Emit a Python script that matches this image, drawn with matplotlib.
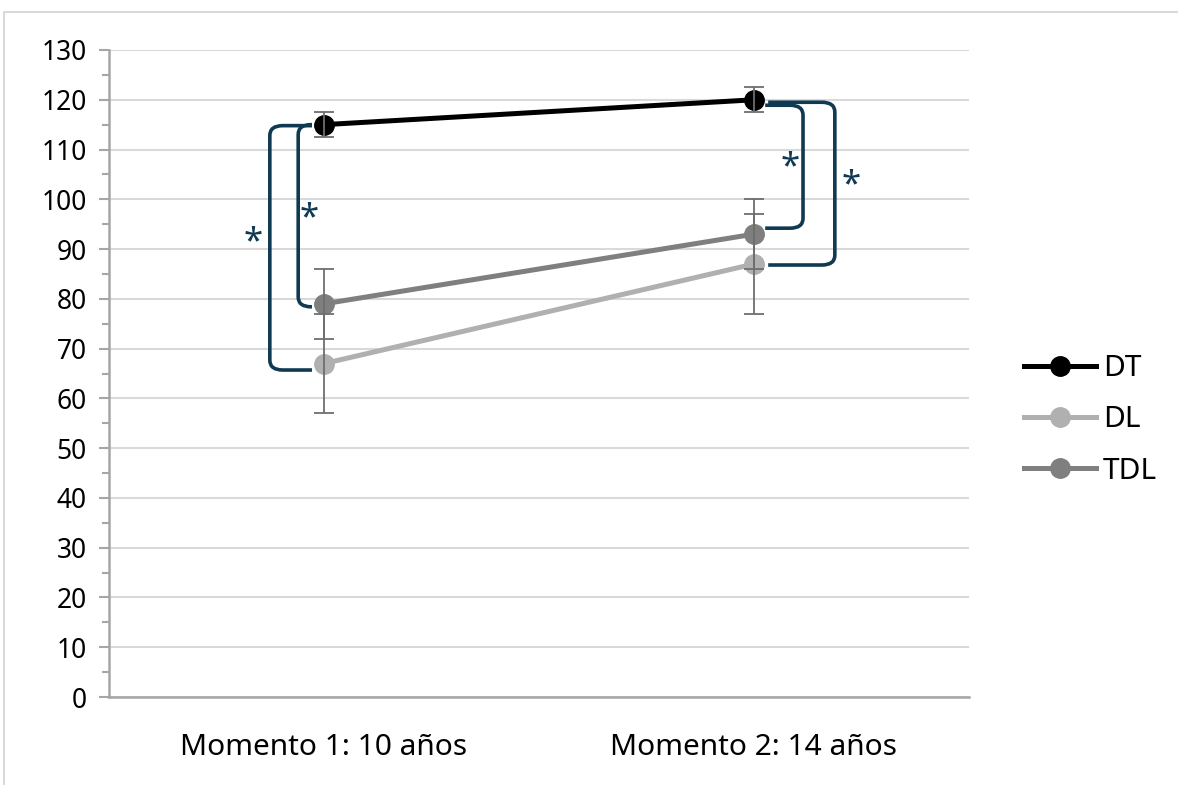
import numpy as np
import matplotlib
matplotlib.use('Agg')
import matplotlib.pyplot as plt
from matplotlib.path import Path
from matplotlib.patches import PathPatch, Rectangle

plt.rcParams['font.family'] = ['Noto Sans', 'DejaVu Sans']

# Data
categories = ['Momento 1: 10 años', 'Momento 2: 14 años']
dt = [115, 120]
dt_err = [2.5, 2.5]
dl = [67, 87]
dl_err = [10, 10]
tdl = [79, 93]
tdl_err = [7, 7]

# significance brackets: (x of vertical, x of arm end, y top, y bottom)
brackets = [(-0.126, -0.028, 114.8, 65.7),
            (-0.060, -0.028, 115.0, 78.4),
            (1.114, 1.026, 118.9, 94.2),
            (1.188, 1.033, 119.5, 86.8)]
stars = [(-0.165, 91.4), (-0.035, 96.2), (1.084, 106.5), (1.226, 102.9)]

navy = '#0f3a52'
x = np.arange(len(categories))

fig = plt.figure(figsize=(11.78, 7.85), dpi=100)
ax = fig.add_axes([109/1178, 1 - 697/785, 860/1178, 647/785])

# outer chart border (only top/left visible in the crop)
fig.patches.append(Rectangle((4/1178, -0.1), 1.2, 0.1 + (785-12)/785,
                             transform=fig.transFigure, fill=False,
                             edgecolor='#d9d9d9', linewidth=1.5))

series = [('DT', dt, dt_err, '#000000'),
          ('DL', dl, dl_err, '#b0b0b0'),
          ('TDL', tdl, tdl_err, '#7f7f7f')]
for name, vals, err, col in series:
    ax.plot(x, vals, color=col, linewidth=3.6, marker='o', markersize=14,
            label=name, zorder=3)
    ax.errorbar(x, vals, yerr=err, fmt='none', ecolor='#6e6e6e',
                elinewidth=1.3, capsize=7, capthick=1.3, zorder=4)

# brackets with rounded corners
rx, ry = 0.03, 2.0
for xv, xe, yt, yb in brackets:
    s = 1 if xe > xv else -1
    verts = [(xe, yt), (xv + s*rx, yt), (xv, yt), (xv, yt - ry),
             (xv, yb + ry), (xv, yb), (xv + s*rx, yb), (xe, yb)]
    codes = [Path.MOVETO, Path.LINETO, Path.CURVE3, Path.CURVE3,
             Path.LINETO, Path.CURVE3, Path.CURVE3, Path.LINETO]
    ax.add_patch(PathPatch(Path(verts, codes), fill=False, edgecolor=navy,
                           linewidth=2.6, zorder=5))
for sx, sy in stars:
    ax.text(sx, sy, '*', color=navy, fontsize=25, fontweight='bold',
            ha='center', va='center')

ax.set_xlim(-0.5, 1.5)
ax.set_ylim(0, 130)
ax.set_yticks(np.arange(0, 131, 10))
ax.set_yticks(np.arange(5, 130, 10), minor=True)
ax.set_xticks(x)
ax.set_xticklabels(categories)
ax.grid(axis='y', color='#d9d9d9', linewidth=1.5)
ax.set_axisbelow(True)
for sp in ['top', 'right']:
    ax.spines[sp].set_visible(False)
for sp in ['left', 'bottom']:
    ax.spines[sp].set_color('#a6a6a6')
    ax.spines[sp].set_linewidth(1.8)
ax.tick_params(axis='y', which='major', length=7, width=1.5, color='#a6a6a6',
               labelsize=19, pad=9)
ax.tick_params(axis='y', which='minor', length=5, width=1.5, color='#a6a6a6')
ax.tick_params(axis='x', length=0, labelsize=21.5, pad=26)

leg = ax.legend(loc='center left', bbox_to_anchor=(1024/1178, 1 - 420/785),
                bbox_transform=fig.transFigure, frameon=False, fontsize=21.5,
                handlelength=2.4, labelspacing=0.75, handletextpad=0.25,
                borderpad=0, borderaxespad=0)

fig.savefig('out.png', dpi=100)
